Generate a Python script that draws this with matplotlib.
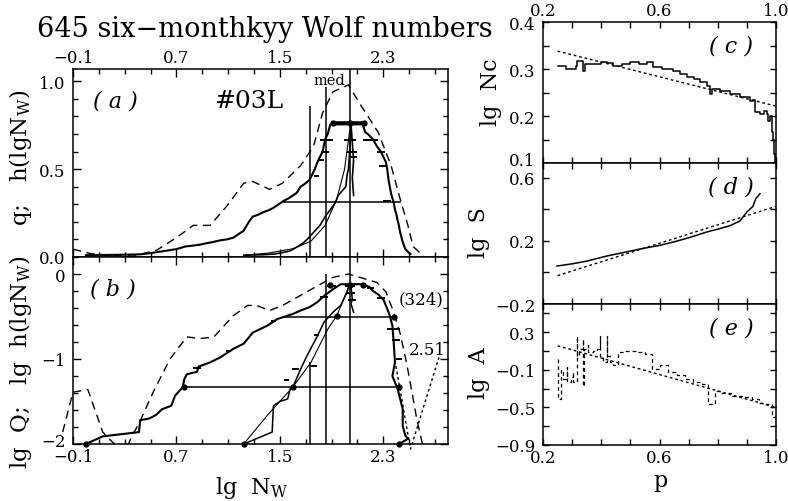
import matplotlib
matplotlib.use('Agg')
import matplotlib.pyplot as plt
import numpy as np
from matplotlib.ticker import FixedLocator, FuncFormatter

plt.rcParams['font.family'] = ['DejaVu Serif']
plt.rcParams['mathtext.fontset'] = 'dejavuserif'

# ---------------- data: panel (a) ----------------
a_dash_x = [-0.10, 0.03, 0.15, 0.37, 0.55, 0.70, 0.83, 0.96, 1.09, 1.22, 1.29, 1.42, 1.52,
            1.66, 1.76, 1.83, 1.91, 2.03, 2.12, 2.26, 2.36, 2.43, 2.49, 2.53, 2.61]
a_dash_y = [0.045, 0.02, 0.012, 0.005, 0.04, 0.11, 0.18, 0.18, 0.29, 0.42, 0.43, 0.385, 0.42,
            0.52, 0.63, 0.82, 0.94, 0.98, 0.87, 0.71, 0.52, 0.33, 0.18, 0.06, 0.005]

a_wide_x = [0.00, 0.20, 0.42, 0.50, 0.57, 0.64, 0.70, 0.77, 0.83, 0.88, 0.93, 0.98, 1.04,
            1.09, 1.14, 1.18, 1.22, 1.26, 1.29, 1.33, 1.37, 1.41, 1.45, 1.49, 1.53, 1.57,
            1.60, 1.63, 1.66, 1.70, 1.73, 1.75, 1.77, 1.79, 1.81, 1.83, 1.85, 1.87, 1.89,
            2.14, 2.16, 2.18, 2.22, 2.25, 2.28, 2.30, 2.32, 2.33, 2.34, 2.35, 2.36, 2.38,
            2.39, 2.40, 2.41, 2.42, 2.43, 2.45, 2.47, 2.49, 2.51]
a_wide_y = [0.010, 0.012, 0.015, 0.022, 0.030, 0.038, 0.045, 0.060, 0.065, 0.070, 0.078, 0.085, 0.095,
            0.100, 0.110, 0.130, 0.150, 0.200, 0.230, 0.240, 0.255, 0.265, 0.280, 0.300, 0.320, 0.335,
            0.350, 0.365, 0.400, 0.420, 0.440, 0.470, 0.500, 0.540, 0.570, 0.600, 0.670, 0.700, 0.755,
            0.755, 0.710, 0.700, 0.670, 0.630, 0.600, 0.570, 0.540, 0.500, 0.440, 0.400, 0.360, 0.310,
            0.270, 0.245, 0.210, 0.180, 0.140, 0.085, 0.045, 0.030, 0.017]

a_narrow_x = [1.22, 1.37, 1.46, 1.52, 1.58, 1.64, 1.68, 1.71, 1.76, 1.81, 1.85, 1.89, 1.93,
              1.95, 1.98, 2.01, 2.02, 2.03, 2.04, 2.05, 2.06, 2.07, 2.06, 2.07]
a_narrow_y = [0.010, 0.013, 0.017, 0.025, 0.035, 0.060, 0.080, 0.100, 0.140, 0.180, 0.230, 0.270, 0.310,
              0.350, 0.375, 0.400, 0.470, 0.500, 0.600, 0.755, 0.650, 0.550, 0.450, 0.350]

a_fit_x = [1.22, 1.41, 1.60, 1.74, 1.85, 1.94, 2.00, 2.04]
a_fit_y = [0.010, 0.022, 0.047, 0.090, 0.180, 0.330, 0.500, 0.720]

a_level_x = [1.53, 2.43]
a_level_y = 0.315
a_peak_x = [1.91, 2.04, 2.15]
a_peak_y = 0.762

a_marks_x = [1.86, 2.04, 2.20, 1.85, 2.06, 2.07, 2.28, 1.82, 1.78, 2.30, 2.33]
a_marks_y = [0.665, 0.665, 0.665, 0.60, 0.60, 0.57, 0.60, 0.55, 0.46, 0.52, 0.32]
a_marks_e = [0.05, 0.045, 0.06, 0.03, 0.04, 0.03, 0.03, 0.02, 0.02, 0.03, 0.03]

med_x = [1.73, 1.86, 2.04]
a_med_top = [0.86, 0.97, 1.07]
b_med_top = [-1.03, 0.0, 0.2]

# ---------------- data: panel (b) ----------------
b_dash_x = [-0.10, 0.015, 0.13, 0.22, 0.28, 0.35, 0.41, 0.52, 0.65, 0.78, 0.88, 0.99, 1.14, 1.25, 1.32,
            1.42, 1.52, 1.65, 1.79, 1.91, 2.03, 2.12, 2.25, 2.32, 2.38, 2.43, 2.48, 2.52, 2.56, 2.61]
b_dash_y = [-1.39, -1.36, -1.86, -2.00, -2.20, -1.92, -1.76, -1.39, -1.00, -0.74, -0.76, -0.74, -0.49, -0.37, -0.37,
            -0.43, -0.37, -0.26, -0.14, -0.04, 0.00, -0.04, -0.10, -0.21, -0.45, -0.70, -1.05, -1.38, -1.72, -2.05]
b_dash_out_x = [-0.18, -0.10]
b_dash_out_y = [-1.86, -1.39]

b_wide_x = [0.00, 0.13, 0.41, 0.42, 0.49, 0.54, 0.59, 0.66, 0.69, 0.75, 0.76, 0.78, 0.86, 0.87, 0.96,
            1.04, 1.14, 1.22, 1.29, 1.40, 1.48, 1.54, 1.60, 1.66, 1.73, 1.79, 1.84, 1.91, 1.97, 2.14,
            2.19, 2.22, 2.26, 2.30, 2.33, 2.35, 2.37, 2.38, 2.39, 2.37, 2.41, 2.45, 2.45, 2.47, 2.49, 2.42]
b_wide_y = [-2.00, -1.91, -1.86, -1.72, -1.70, -1.66, -1.59, -1.55, -1.43, -1.33, -1.24, -1.18, -1.15, -1.09, -1.04,
            -0.98, -0.88, -0.82, -0.69, -0.61, -0.53, -0.50, -0.47, -0.43, -0.39, -0.33, -0.26, -0.18, -0.12, -0.12,
            -0.15, -0.20, -0.24, -0.30, -0.41, -0.49, -0.61, -0.80, -1.04, -1.20, -1.35, -1.59, -1.79, -1.90, -1.94, -2.00]

b_narrow_x = [1.22, 1.44, 1.45, 1.50, 1.56, 1.58, 1.60, 1.66, 1.71, 1.79, 1.84, 1.91, 1.97, 2.02, 2.04,
              2.05, 2.06, 2.05, 2.07]
b_narrow_y = [-2.00, -1.86, -1.55, -1.50, -1.47, -1.35, -1.33, -1.12, -0.96, -0.73, -0.57, -0.45, -0.37, -0.21, -0.10,
              -0.15, -0.30, -0.35, -0.45]

b_fit_x = [1.22, 1.41, 1.60, 1.74, 1.87, 1.94, 2.04]
b_fit_y = [-2.00, -1.65, -1.33, -1.04, -0.65, -0.49, -0.13]

b_level1_x = [1.54, 2.38]
b_level1_y = -0.50
b_level2_x = [0.76, 2.42]
b_level2_y = -1.33

b_dots_x = [0.00, 1.22, 2.42, 0.76, 1.60, 2.42, 1.94, 2.38, 1.89, 2.04, 2.14]
b_dots_y = [-2.0, -2.0, -2.0, -1.33, -1.33, -1.33, -0.49, -0.50, -0.13, -0.13, -0.13]

b_vee_x = [2.39, 2.51, 2.73]
b_vee_y = [-1.02, -2.06, -0.98]

b_marks_x = [1.90, 2.04, 1.84, 2.05, 2.06, 2.20, 2.28, 2.38, 2.40, 2.42, 0.86, 1.10, 1.45, 1.76, 1.78, 1.62, 1.55]
b_marks_y = [-0.14, -0.14, -0.27, -0.22, -0.30, -0.16, -0.28, -0.65, -0.78, -1.00, -1.10, -0.90, -0.55, -1.08, -0.72, -1.12, -1.25]
b_marks_e = [0.035, 0.04, 0.03, 0.03, 0.03, 0.03, 0.03, 0.05, 0.03, 0.025, 0.03, 0.02, 0.02, 0.03, 0.02, 0.03, 0.02]

# ---------------- data: right panels ----------------
c_x = [0.250, 0.280, 0.315, 0.318, 0.335, 0.337, 0.342, 0.345, 0.400, 0.420, 0.440, 0.470, 0.500, 0.530,
       0.557, 0.578, 0.610, 0.647, 0.670, 0.694, 0.720, 0.740, 0.762, 0.773, 0.775, 0.780, 0.807, 0.842,
       0.876, 0.910, 0.920, 0.928, 0.945, 0.960, 0.969, 0.973, 0.980, 0.986, 0.990, 0.993, 0.996]
c_y = [0.306, 0.300, 0.306, 0.318, 0.318, 0.296, 0.296, 0.310, 0.315, 0.312, 0.307, 0.310, 0.315, 0.310,
       0.315, 0.304, 0.300, 0.296, 0.290, 0.283, 0.278, 0.272, 0.264, 0.257, 0.246, 0.257, 0.253, 0.247,
       0.240, 0.232, 0.235, 0.209, 0.205, 0.210, 0.205, 0.190, 0.200, 0.166, 0.150, 0.120, 0.080]
c_fit_x = [0.25, 1.0]
c_fit_y = [0.338, 0.221]

d_x = [0.248, 0.30, 0.35, 0.42, 0.48, 0.533, 0.60, 0.647, 0.70, 0.762, 0.80, 0.842, 0.876, 0.90, 0.921, 0.93, 0.945]
d_y = [0.041, 0.055, 0.072, 0.105, 0.128, 0.149, 0.172, 0.193, 0.220, 0.257, 0.275, 0.297, 0.327, 0.384, 0.420, 0.467, 0.500]
d_fit_x = [0.25, 1.0]
d_fit_y = [-0.02, 0.42]

e_x = [0.250, 0.250, 0.262, 0.270, 0.282, 0.282, 0.295, 0.303, 0.303, 0.317, 0.317, 0.325, 0.337, 0.337,
       0.340, 0.355, 0.355, 0.370, 0.385, 0.396, 0.396, 0.405, 0.420, 0.420, 0.430, 0.440, 0.457, 0.480,
       0.500, 0.520, 0.550, 0.574, 0.600, 0.630, 0.660, 0.687, 0.715, 0.745, 0.766, 0.766, 0.790, 0.810,
       0.850, 0.883, 0.918, 0.940, 0.962, 0.986, 0.986, 1.000]
e_y = [0.017, -0.41, -0.10, -0.20, -0.07, -0.23, -0.18, -0.12, -0.23, 0.26, 0.05, 0.12, 0.23, -0.27,
       0.12, 0.16, 0.09, 0.10, 0.12, 0.26, 0.05, -0.015, 0.26, 0.05, -0.015, -0.05, 0.09, 0.10,
       0.10, 0.09, 0.07, -0.09, -0.05, -0.12, -0.15, -0.20, -0.23, -0.25, -0.28, -0.46, -0.33, -0.35,
       -0.38, -0.39, -0.41, -0.45, -0.46, -0.52, -0.60, -0.75]
e_fit_x = [0.25, 1.0]
e_fit_y = [0.156, -0.50]

left_xticks = [-0.1, 0.7, 1.5, 2.3]
right_xticks = [0.2, 0.6, 1.0]

# ---------------- figure ----------------
W, H = 788, 502
fig = plt.figure(figsize=(W / 100, H / 100), dpi=100)
TICK_FS = 12


def px_axes(x0, y0, x1, y1):
    return fig.add_axes([x0 / W, 1 - y1 / H, (x1 - x0) / W, (y1 - y0) / H])


def fmt1(v):
    s = f"{v:.1f}"
    if s == "-0.0":
        s = "0.0"
    return s.replace('-', '\u2212')


def fmt0(v):
    s = f"{v:.0f}"
    if s == "-0":
        s = "0"
    return s.replace('-', '\u2212')


def make_fmt(base, skip=None):
    def f(v, pos):
        if skip is not None and abs(v - skip) < 1e-9:
            return ""
        return base(v)
    return FuncFormatter(f)


def style(ax, xmaj, xmin, ymaj, ymin, yfmt, top_lab, bot_lab, majlen, minlen):
    ax.xaxis.set_major_locator(FixedLocator(xmaj))
    ax.xaxis.set_minor_locator(FixedLocator(xmin))
    ax.yaxis.set_major_locator(FixedLocator(ymaj))
    ax.yaxis.set_minor_locator(FixedLocator(ymin))
    ax.xaxis.set_major_formatter(make_fmt(fmt1))
    ax.yaxis.set_major_formatter(yfmt)
    ax.tick_params(which='both', direction='in', top=True, right=True, width=1.0,
                   labelsize=TICK_FS, colors='black')
    ax.tick_params(which='major', length=majlen)
    ax.tick_params(which='minor', length=minlen)
    ax.tick_params(axis='x', labeltop=top_lab, labelbottom=bot_lab)
    ax.tick_params(axis='x', which='major', pad=3 if bot_lab else 2)
    ax.tick_params(axis='y', which='major', pad=5.5)
    for s in ax.spines.values():
        s.set_linewidth(1.1)


def shifted_ylabel(ax, value, text, dy):
    ax.annotate(text, xy=(0, value), xycoords=('axes fraction', 'data'),
                xytext=(-5.5, dy), textcoords='offset points',
                ha='right', va='center_baseline', fontsize=TICK_FS, annotation_clip=False)


lx0, lx1 = 73, 448
axa = px_axes(lx0, 70, lx1, 258)
axb = px_axes(lx0, 258, lx1, 445)

minor_left = list(np.round(np.arange(-0.1, 2.81, 0.2), 2))
for ax in (axa, axb):
    ax.set_xlim(-0.1, 2.8)

axa.set_ylim(0, 1.07)
axb.set_ylim(-2, 0.2)
style(axa, left_xticks, minor_left, [0.0, 0.5, 1.0], list(np.round(np.arange(0, 1.01, 0.1), 2)),
      make_fmt(fmt1), True, False, 6, 3.5)
style(axb, left_xticks, minor_left, [-2, -1, 0], list(np.round(np.arange(-2, 0.21, 0.2), 2)),
      make_fmt(fmt0, skip=-2), False, True, 6, 3.5)
shifted_ylabel(axb, -2, fmt0(-2), 3.5)

dash_long = (6, 4)
dot_short = (2, 2)

# panel (a)
axa.plot(a_dash_x, a_dash_y, color='k', lw=1.0, dashes=dash_long)
axa.plot(a_wide_x, a_wide_y, color='k', lw=1.5)
axa.plot(a_narrow_x, a_narrow_y, color='k', lw=1.2)
axa.plot(a_fit_x, a_fit_y, color='k', lw=0.8)
axa.plot(a_level_x, [a_level_y] * 2, color='k', lw=1.1)
axa.plot(a_peak_x, [a_peak_y] * 3, color='k', lw=2.6, marker='o', ms=3.5)
axa.errorbar(a_marks_x, a_marks_y, xerr=a_marks_e, fmt='none', ecolor='k', elinewidth=1.4, capsize=0)
axa.vlines(med_x, 0, a_med_top, color='k', lw=1.1)
axa.text(1.88, 1.01, "med", fontsize=10.5, ha='center', va='center')
axa.text(0.225, 0.89, "( a )", fontsize=16, style='italic', ha='center', va='center')
axa.text(1.26, 0.89, "#03L", fontsize=18, ha='center', va='center')

# panel (b)
axb.plot(b_dash_x, b_dash_y, color='k', lw=1.0, dashes=dash_long)
axb.plot(b_dash_out_x, b_dash_out_y, color='k', lw=1.0, dashes=dash_long, clip_on=False)
axb.plot(b_wide_x, b_wide_y, color='k', lw=1.5)
axb.plot(b_narrow_x, b_narrow_y, color='k', lw=1.1)
axb.plot(b_fit_x, b_fit_y, color='k', lw=0.8)
axb.plot(b_level1_x, [b_level1_y] * 2, color='k', lw=1.1)
axb.plot(b_level2_x, [b_level2_y] * 2, color='k', lw=1.1)
axb.plot(b_dots_x, b_dots_y, 'o', color='k', ms=3.5, clip_on=False)
axb.plot(b_vee_x, b_vee_y, color='k', lw=1.0, dashes=dot_short, clip_on=False)
axb.errorbar(b_marks_x, b_marks_y, xerr=b_marks_e, fmt='none', ecolor='k', elinewidth=1.4, capsize=0)
axb.vlines(med_x, -2, b_med_top, color='k', lw=1.1)
axb.text(0.21, -0.165, "( b )", fontsize=16, style='italic', ha='center', va='center')
axb.text(2.59, -0.29, "(324)", fontsize=12, ha='center', va='center')
axb.text(2.64, -0.89, "2.51", fontsize=12, ha='center', va='center')

# right panels
rx0, rx1 = 543, 776
axc = px_axes(rx0, 23, rx1, 164)
axd = px_axes(rx0, 164, rx1, 305)
axe = px_axes(rx0, 305, rx1, 446)
minor_right = list(np.round(np.arange(0.2, 1.01, 0.1), 2))
for ax in (axc, axd, axe):
    ax.set_xlim(0.2, 1.0)
axc.set_ylim(0.1, 0.4)
axd.set_ylim(-0.2, 0.695)
axe.set_ylim(-0.9, 0.6)
style(axc, right_xticks, minor_right, [0.1, 0.2, 0.3, 0.4], list(np.round(np.arange(0.1, 0.401, 0.05), 3)),
      make_fmt(fmt1, skip=0.1), True, False, 4.5, 4)
shifted_ylabel(axc, 0.1, fmt1(0.1), 3.0)
style(axd, right_xticks, minor_right, [-0.2, 0.2, 0.6], [-0.2, 0.0, 0.2, 0.4, 0.6],
      make_fmt(fmt1), False, False, 4.5, 4)
style(axe, right_xticks, minor_right, [-0.9, -0.5, -0.1, 0.3], list(np.round(np.arange(-0.9, 0.51, 0.2), 2)),
      make_fmt(fmt1), False, True, 4.5, 4)

axc.plot(c_x, c_y, color='k', lw=1.1, drawstyle='steps-post')
axc.plot(c_fit_x, c_fit_y, color='k', lw=1.0, dashes=dot_short)
axd.plot(d_x, d_y, color='k', lw=1.1)
axd.plot(d_fit_x, d_fit_y, color='k', lw=1.0, dashes=dot_short)
axe.plot(e_x, e_y, color='k', lw=0.9, dashes=(3, 2.5), drawstyle='steps-post')
axe.plot(e_fit_x, e_fit_y, color='k', lw=1.0, dashes=dot_short)

axc.text(0.845, 0.349, "( c )", fontsize=16, style='italic', ha='center', va='center')
axd.text(0.845, 0.543, "( d )", fontsize=16, style='italic', ha='center', va='center')
axe.text(0.845, 0.348, "( e )", fontsize=16, style='italic', ha='center', va='center')

# labels
fig.text(37 / W, 1 - 30 / H, "645 six\u2212monthkyy Wolf numbers", fontsize=19.5, ha='left', va='center')
fig.text(21 / W, 1 - 158 / H, r"q;   h(lgN$_\mathrm{W}$)", fontsize=16.5, rotation=90, ha='center', va='center')
fig.text(21 / W, 1 - 362 / H, r"lg  Q;   lg  h(lgN$_\mathrm{W}$)", fontsize=16.5, rotation=90, ha='center', va='center')
fig.text(252 / W, 1 - 488 / H, r"lg  N$_\mathrm{W}$", fontsize=16, ha='center', va='center')
fig.text(491 / W, 1 - 92 / H, "lg  Nc", fontsize=16, rotation=90, ha='center', va='center')
fig.text(479 / W, 1 - 233 / H, "lg  S", fontsize=16, rotation=90, ha='center', va='center')
fig.text(479 / W, 1 - 373 / H, "lg  A", fontsize=16, rotation=90, ha='center', va='center')
fig.text(660 / W, 1 - 481 / H, "p", fontsize=16, ha='center', va='center')

fig.savefig("out.png", dpi=100)
